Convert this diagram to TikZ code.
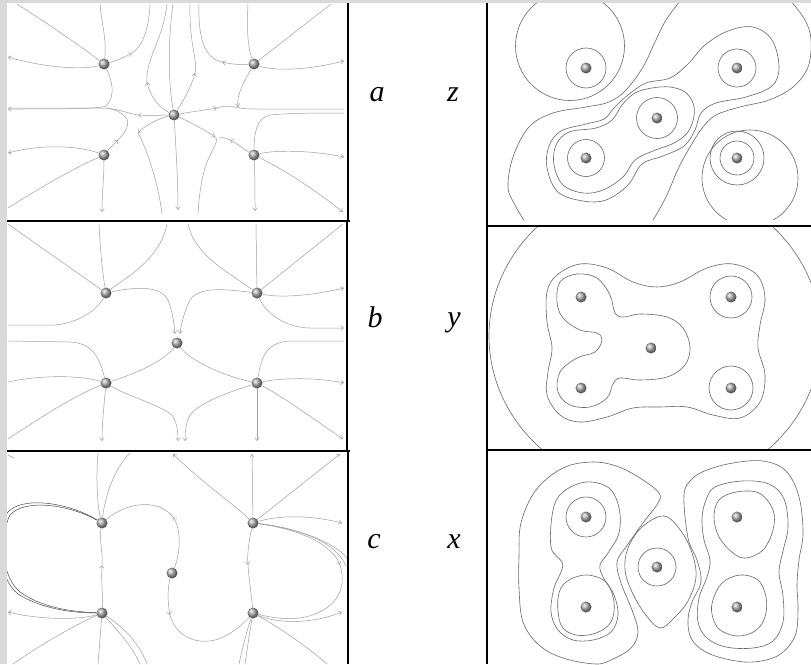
\documentclass[tikz,border=0pt]{standalone}
\usepackage{fontspec}
\newfontfamily\labfont{Liberation Serif}
\usetikzlibrary{arrows.meta}
\begin{document}
\begin{tikzpicture}[x=1pt,y=-1pt,
  sl/.style={draw=gray!75,line width=0.5pt},
  sa/.style={sl,-{Straight Barb[length=3pt,width=4.5pt]}},
  ct/.style={draw=black!60,line width=0.6pt},
  atom/.style={circle,inner sep=0pt,minimum size=11pt,ball color=gray!65},
  lab/.style={font=\labfont\itshape\fontsize{30}{32}\selectfont,anchor=base,inner sep=0pt},
  frame/.style={line width=2.8pt,black}
]
\useasboundingbox (0,0) rectangle (811,664);
\fill[gray!30] (0,0) rectangle (811,664);
\fill[white] (7,3) rectangle (811,664);

% ---------------- atoms, left panels
\node[atom] (TLa) at (104,64) {};
\node[atom] (TRa) at (254,64) {};
\node[atom] (Ca) at (174,115) {};
\node[atom] (BLa) at (104,155) {};
\node[atom] (BRa) at (254,155) {};
\node[atom] (TLb) at (106,293) {};
\node[atom] (TRb) at (257,293) {};
\node[atom] (Cb) at (177,343) {};
\node[atom] (BLb) at (106,383) {};
\node[atom] (BRb) at (257,383) {};
\node[atom] (TLc) at (102,523) {};
\node[atom] (TRc) at (253,523) {};
\node[atom] (Cc) at (172,573) {};
\node[atom] (BLc) at (102,613) {};
\node[atom] (BRc) at (253,613) {};

% ---------------- panel a
\draw[sl] (TLa) .. controls (75,42) and (45,22) .. (17,4);
\draw[sl] (TLa) .. controls (107,40) and (101,20) .. (100,4);
\draw[sa] (TLa) .. controls (85,70) and (45,68) .. (8,57);
\draw[sa] (TLa) .. controls (116,61) and (125,57) .. (132,53);
\draw[sl] (132,53) .. controls (142,47) and (149,30) .. (150,4);
\draw[sa] (TLa) .. controls (112,80) and (116,96) .. (106,106) .. controls (100,109) and (60,109) .. (8,109);
\draw[sa] (Ca) .. controls (165,115) and (150,116) .. (138,115);
\draw[sl] (138,115) .. controls (125,113) and (118,108) .. (100,108) -- (8,108);
\draw[sa] (Ca) .. controls (160,108) and (150,97) .. (147,82);
\draw[sl] (147,82) .. controls (145,60) and (163,40) .. (167,4);
\draw[sl] (Ca) .. controls (168,80) and (168,40) .. (173,4);
\draw[sa] (Ca) .. controls (184,100) and (192,85) .. (195,73);
\draw[sl] (195,73) .. controls (198,60) and (189,45) .. (190,4);
\draw[sa] (TRa) .. controls (240,65) and (230,64) .. (222,62);
\draw[sl] (222,62) .. controls (205,58) and (198,40) .. (199,4);
\draw[sl] (TRa) .. controls (247,45) and (247,25) .. (248,4);
\draw[sl] (TRa) -- (331,4);
\draw[sa] (TRa) .. controls (270,70) and (300,72) .. (344,61);
\draw[sa] (TRa) .. controls (245,80) and (236,95) .. (238,107);
\draw[sl] (238,107) .. controls (239,109) and (250,109) .. (260,109) -- (344,109);
\draw[sa] (Ca) .. controls (190,112) and (205,110) .. (217,108);
\draw[sl] (217,108) .. controls (225,105) and (230,106) .. (238,108);
\draw[sa] (Ca) .. controls (160,118) and (145,125) .. (138,133);
\draw[sl] (138,133) .. controls (145,145) and (158,180) .. (162,214);
\draw[sa] (Ca) .. controls (176,150) and (178,180) .. (178,210);
\draw[sa] (Ca) .. controls (190,122) and (205,130) .. (215,137);
\draw[sl] (215,137) .. controls (220,139) and (212,150) .. (207,162) .. controls (202,175) and (199,195) .. (198,214);
\draw[sa] (BRa) .. controls (245,150) and (238,144) .. (230,140);
\draw[sl] (230,140) .. controls (226,138) and (222,137) .. (219,138);
\draw[sl] (BRa) .. controls (254,135) and (256,118) .. (270,115) .. controls (290,113) and (320,113) .. (344,113);
\draw[sa] (BRa) .. controls (275,150) and (310,150) .. (344,157);
\draw[sa] (BRa) .. controls (285,170) and (315,190) .. (343,212);
\draw[sa] (BRa) .. controls (255,175) and (255,195) .. (255,211);
\draw[sa] (BLa) .. controls (108,150) and (113,145) .. (118,140);
\draw[sl] (118,140) .. controls (128,130) and (132,120) .. (122,114) .. controls (117,110) and (112,109) .. (106,108);
\draw[sa] (BLa) .. controls (85,148) and (50,142) .. (8,153);
\draw[sl] (BLa) .. controls (70,170) and (40,188) .. (8,208);
\draw[sa] (BLa) .. controls (104,175) and (102,195) .. (102,212);

% ---------------- panel b
\draw[sl] (TLb) -- (8,224);
\draw[sl] (TLb) .. controls (102,270) and (100,245) .. (99,224);
\draw[sl] (TLb) .. controls (125,278) and (160,260) .. (167,224);
\draw[sl] (TLb) .. controls (100,305) and (85,322) .. (55,325) -- (8,325);
\draw[sa] (TLb) .. controls (135,287) and (160,285) .. (168,300) .. controls (173,312) and (174,325) .. (175,334);
\draw[sa] (TRb) .. controls (230,290) and (200,285) .. (190,300) .. controls (184,312) and (181,325) .. (180,334);
\draw[sl] (TRb) .. controls (225,270) and (195,255) .. (188,224);
\draw[sl] (TRb) -- (256,224);
\draw[sl] (TRb) -- (343,224);
\draw[sa] (TRb) .. controls (280,298) and (310,296) .. (344,288);
\draw[sa] (TRb) .. controls (265,312) and (285,328) .. (310,328) -- (344,328);
\draw[sl] (Cb) .. controls (165,360) and (140,372) .. (BLb);
\draw[sl] (Cb) .. controls (190,360) and (220,375) .. (BRb);
\draw[sl] (BLb) .. controls (100,360) and (94,343) .. (70,342) -- (8,341);
\draw[sl] (BLb) .. controls (80,375) and (40,375) .. (8,382);
\draw[sl] (BLb) .. controls (70,398) and (40,418) .. (8,439);
\draw[sa] (BLb) .. controls (104,405) and (102,425) .. (102,441);
\draw[sa] (BLb) .. controls (125,395) and (160,405) .. (172,415) .. controls (177,422) and (178,432) .. (178,441);
\draw[sl] (BRb) .. controls (261,360) and (265,342) .. (290,341) -- (344,341);
\draw[sa] (BRb) .. controls (280,378) and (315,377) .. (344,383);
\draw[sa] (BRb) .. controls (285,398) and (315,420) .. (343,439);
\draw[sa] (BRb) -- (257,441);
\draw[sa] (BRb) .. controls (230,392) and (200,402) .. (190,415) .. controls (186,422) and (185,432) .. (185,441);

% ---------------- panel c
\begin{scope}
\clip (7,452) rectangle (347,664);
\draw[sl] (TLc) .. controls (97,505) and (96,475) .. (98,453);
\draw[sl] (TLc) .. controls (105,495) and (115,468) .. (130,453);
\draw[sl,draw=gray!60!black] (TLc) .. controls (70,505) and (25,498) .. (10,515) .. controls (0,535) and (0,575) .. (20,592) .. controls (45,610) and (80,612) .. (BLc);
\draw[sl,draw=gray!60!black] (TLc) .. controls (70,503) and (22,495) .. (7,513) .. controls (-3,535) and (-3,577) .. (18,594) .. controls (45,611) and (80,613) .. (BLc);
\draw[sa] (Cc) .. controls (180,555) and (182,530) .. (173,517);
\draw[sl] (173,517) .. controls (160,500) and (130,500) .. (TLc);
\draw[sa] (BLc) .. controls (103,595) and (101,580) .. (102,565);
\draw[sl] (102,565) .. controls (103,550) and (99,540) .. (TLc);
\draw[sa] (Cc) .. controls (168,585) and (167,600) .. (170,615);
\draw[sl] (170,615) .. controls (175,635) and (195,645) .. (215,640) .. controls (232,635) and (245,622) .. (BRc);
\draw[sa] (TRc) -- (252,454);
\draw[sa] (TRc) -- (340,454);
\draw[sa] (TRc) .. controls (235,505) and (205,485) .. (173,454);
\draw[sa] (TRc) .. controls (280,515) and (310,515) .. (342,523);
\draw[sa] (TRc) .. controls (290,528) and (330,540) .. (340,565);
\draw[sl] (340,565) .. controls (348,590) and (335,612) .. (300,618) .. controls (280,620) and (265,616) .. (BRc);
\draw[sl] (TRc) .. controls (295,528) and (335,540) .. (346,566);
\draw[sl] (TRc) .. controls (300,528) and (340,545) .. (348,560);
\draw[sa] (TRc) .. controls (249,540) and (247,555) .. (248,565);
\draw[sl] (248,565) .. controls (249,580) and (252,600) .. (BRc);
\draw[sa] (BRc) .. controls (275,623) and (310,625) .. (342,612);
\draw[sl] (BRc) .. controls (280,628) and (305,645) .. (327,664);
\draw[sl] (BRc) .. controls (250,630) and (247,650) .. (245,664);
\draw[sl] (BRc) .. controls (247,630) and (242,650) .. (239,664);
\draw[sa] (BLc) .. controls (80,620) and (40,620) .. (8,612);
\draw[sl] (BLc) .. controls (75,625) and (40,645) .. (13,664);
\draw[sl] (BLc) -- (98,664);
\draw[sl] (BLc) .. controls (120,625) and (138,640) .. (147,664);
\draw[sl] (BLc) .. controls (115,628) and (132,645) .. (140,664);
\draw[sl] (8,455) -- (14,458);
\end{scope}

% ---------------- atoms, right panels
\node[atom] (TLz) at (586,68) {};
\node[atom] (TRz) at (737,68) {};
\node[atom] (Cz) at (657,118) {};
\node[atom] (BLz) at (586,158) {};
\node[atom] (BRz) at (737,158) {};
\node[atom] (TLy) at (581,297) {};
\node[atom] (TRy) at (731,297) {};
\node[atom] (Cy) at (651,348) {};
\node[atom] (BLy) at (581,388) {};
\node[atom] (BRy) at (731,388) {};
\node[atom] (TLx) at (586,517) {};
\node[atom] (TRx) at (737,517) {};
\node[atom] (Cx) at (657,567) {};
\node[atom] (BLx) at (586,607) {};
\node[atom] (BRx) at (737,607) {};

% ---------------- panel z
\begin{scope}
\clip (488,3) rectangle (811,219);
\draw[ct] (TLz) circle[radius=20];
\draw[ct] (TRz) circle[radius=19];
\draw[ct] (Cz) circle[radius=20.5];
\draw[ct] (BLz) circle[radius=18.5];
\draw[ct] (BRz) circle[radius=17];
\draw[ct] (BRz) circle[radius=27];
\draw[ct] (570,46) circle[radius=54.5];
\draw[ct] (750,178) circle[radius=48];
\draw[ct] plot[smooth,tension=0.6] coordinates {(681,0) (666,20) (655,42) (643,67) (626,90) (609,102) (586,107) (553,113) (529,127) (513,157) (508,187) (515,205) (525,222)};
\draw[ct] plot[smooth,tension=0.6] coordinates {(790,0) (805,20) (811,40) (808,67) (793,87) (769,100) (740,107) (716,115) (703,127) (693,142) (679,167) (666,197) (652,222)};
\draw[ct] plot[smooth cycle,tension=0.6] coordinates {(586,124) (604,119) (614,108) (628,95) (646,83) (670,78) (688,64) (705,45) (728,31) (753,27) (772,40) (779,67) (772,86) (746,97) (716,103) (701,113) (695,130) (684,146) (663,156) (642,164) (628,185) (606,200) (583,201) (558,192) (547,168) (549,146) (561,131)};
\draw[ct] plot[smooth cycle,tension=0.6] coordinates {(569,132) (596,128) (612,120) (622,105) (635,93) (652,88) (670,87) (685,92) (693,103) (694,116) (688,132) (674,143) (653,151) (635,160) (623,177) (603,190) (583,193) (563,185) (554,165) (556,145)};
\end{scope}

% ---------------- panel y
\begin{scope}
\clip (488,227) rectangle (811,449);
\draw[ct] (TRy) circle[radius=21];
\draw[ct] (BRy) circle[radius=22];
\draw[ct] (655,336) ellipse[x radius=166,y radius=155];
\draw[ct] plot[smooth cycle,tension=0.6] coordinates {(560,282) (577,274) (597,278) (610,295) (615,313) (624,317) (640,314) (667,317) (683,328) (690,347) (685,365) (667,377) (640,380) (620,378) (613,384) (607,398) (590,407) (570,405) (558,392) (560,372) (577,358) (595,352) (602,340) (597,333) (580,330) (563,318) (557,302)};
\draw[ct] plot[smooth cycle,tension=0.6] coordinates {(547,292) (557,275) (580,264) (607,268) (633,282) (657,287) (680,282) (707,268) (733,264) (757,275) (765,298) (760,325) (758,348) (765,375) (760,402) (740,418) (713,415) (687,407) (660,407) (633,408) (607,417) (580,422) (560,415) (547,395) (548,372) (552,348) (547,322)};
\end{scope}

% ---------------- panel x
\begin{scope}
\clip (488,451) rectangle (811,664);
\draw[ct] (TLx) circle[radius=20];
\draw[ct] (Cx) circle[radius=19];
\draw[ct] plot[smooth cycle,tension=0.6] coordinates {(558,598) (566,582) (586,575) (606,582) (614,602) (611,622) (596,633) (576,635) (561,625)};
\draw[ct] plot[smooth cycle,tension=0.6] coordinates {(551,547) (553,510) (563,492) (586,482) (609,488) (619,508) (619,533) (608,553) (600,565) (603,577) (614,595) (618,615) (611,632) (593,640) (573,640) (558,630) (551,612) (554,588) (561,572) (562,562)};
\draw[ct] plot[smooth cycle,tension=0.6] coordinates {(519,557) (521,523) (536,490) (563,468) (593,462) (619,467) (643,480) (659,493) (658,503) (643,523) (626,547) (617,562) (621,583) (632,610) (638,632) (631,648) (613,659) (596,664) (563,658) (539,645) (523,622) (519,588)};
\draw[ct] plot[smooth cycle,tension=0.6] coordinates {(664,516) (681,531) (692,553) (696,577) (688,601) (674,618) (660,628) (645,614) (632,592) (625,570) (628,548) (642,527)};
\draw[ct] plot[smooth cycle,tension=0.6] coordinates {(714,517) (719,500) (736,492) (759,493) (773,510) (773,530) (763,550) (746,558) (733,553) (719,537)};
\draw[ct] plot[smooth cycle,tension=0.6] coordinates {(713,600) (722,583) (740,575) (758,580) (766,597) (765,617) (755,631) (737,636) (719,629) (712,614)};
\draw[ct] plot[smooth cycle,tension=0.6] coordinates {(706,500) (715,487) (742,481) (769,484) (784,499) (788,527) (783,551) (779,572) (783,596) (783,622) (773,641) (753,648) (726,647) (707,638) (698,622) (699,598) (707,577) (710,560) (704,540) (702,518)};
\draw[ct] plot[smooth cycle,tension=0.6] coordinates {(684,495) (692,479) (707,470) (733,463) (763,461) (786,471) (799,497) (803,533) (799,560) (797,585) (798,610) (795,636) (779,655) (753,662) (726,659) (704,651) (691,638) (688,620) (692,602) (701,582) (697,560) (688,538)};
\end{scope}

% ---------------- frames
\draw[frame] (348,3) -- (348,221);
\draw[frame] (7,221) -- (350,221);
\draw[frame] (347,221) -- (347,451);
\draw[frame] (7,451) -- (350,451);
\draw[frame] (348,451) -- (348,664);
\draw[frame] (487,3) -- (487,664);
\draw[frame] (486,226) -- (811,226);
\draw[frame] (486,450) -- (811,450);

% ---------------- labels
\node[lab] (la) at (377,101) {a};
\node[lab] (lb) at (375,327) {b};
\node[lab] (lc) at (374,548) {c};
\node[lab] (lz) at (453,101) {z};
\node[lab] (ly) at (454,326) {y};
\node[lab] (lx) at (454,548) {x};
\end{tikzpicture}
\end{document}
